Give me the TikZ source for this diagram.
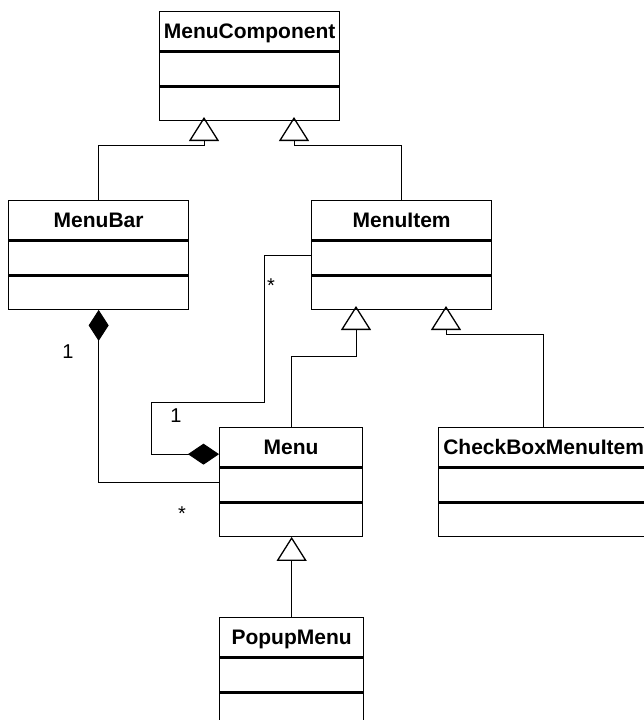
\documentclass[tikz,border=0pt]{standalone}
\usepackage{fontspec}
\setmainfont{Liberation Sans}
\usetikzlibrary{arrows.meta}
\begin{document}
\begin{tikzpicture}[x=1pt,y=-1pt,
  hdr/.style={draw, line width=1.3pt, inner sep=0pt, anchor=north west,
    minimum height=39pt, text height=15pt, text depth=0pt,
    font=\bfseries\fontsize{21}{24}\selectfont},
  attrs/.style={draw, line width=1.3pt, inner sep=0pt, anchor=north, minimum height=34pt},
  opers/.style={draw, line width=1.3pt, inner sep=0pt, anchor=north, minimum height=33pt},
  gen/.style={line width=0.9pt, -{Triangle[open, length=24pt, width=30pt, line width=1.3pt]}},
  comp/.style={line width=0.9pt},
  mult/.style={inner sep=0pt, font=\fontsize{20}{22}\selectfont}]
\fill[white] (0,0) rectangle (644,720);
\clip (0,0) rectangle (644,720);
\useasboundingbox (0,0) rectangle (644,720);

% MenuComponent
\node[hdr, minimum width=180pt] (mc) at (159,11) {MenuComponent};
\node[attrs, minimum width=180pt] (mc-a) at (mc.south) {};
\node[opers, minimum width=180pt] (mc-o) at (mc-a.south) {};

% MenuBar
\node[hdr, minimum width=180pt] (mb) at (8,200) {MenuBar};
\node[attrs, minimum width=180pt] (mb-a) at (mb.south) {};
\node[opers, minimum width=180pt] (mb-o) at (mb-a.south) {};

% MenuItem
\node[hdr, minimum width=180pt] (mi) at (311,200) {MenuItem};
\node[attrs, minimum width=180pt] (mi-a) at (mi.south) {};
\node[opers, minimum width=180pt] (mi-o) at (mi-a.south) {};

% Menu
\node[hdr, minimum width=143pt] (mn) at (219,427) {Menu};
\node[attrs, minimum width=143pt] (mn-a) at (mn.south) {};
\node[opers, minimum width=143pt] (mn-o) at (mn-a.south) {};

% CheckBoxMenuItem
\node[hdr, minimum width=210pt] (cb) at (438,427) {CheckBoxMenuItem};
\node[attrs, minimum width=210pt] (cb-a) at (cb.south) {};
\node[opers, minimum width=210pt] (cb-o) at (cb-a.south) {};

% PopupMenu
\node[hdr, minimum width=144pt] (pm) at (219,617) {PopupMenu};
\node[attrs, minimum width=144pt] (pm-a) at (pm.south) {};
\node[opers, minimum width=144pt] (pm-o) at (pm-a.south) {};

% points where generalisation arrows meet their parents
\coordinate (g1) at (204,117);
\coordinate (g2) at (294,117);
\coordinate (g3) at (356,306);
\coordinate (g4) at (446,306);

% generalisations
\draw[gen] (mb.north) -- ++(0,-55) -| (g1);
\draw[gen] (mi.north) -- ++(0,-55) -| (g2);
\draw[gen] (mn.north) -- ++(0,-71) -| (g3);
\draw[gen] (cb.north) -- ++(0,-93) -| (g4);
\draw[gen] (pm.north) -- (mn-o.south -| pm.north);

% compositions
\draw[comp, {Diamond[length=31pt, width=20pt]}-] (mb-o.south) |- ([yshift=3pt]mn-a.west);
\draw[comp, -{Diamond[length=31pt, width=21pt]}] ([yshift=3pt]mi-a.west) -- ++(-47,0)
  -- ++(0,147) -- ++(-113,0) |- ([yshift=-7pt]mn.west);

% multiplicities
\node[mult] (m1) at (271,286) {*};
\node[mult] (m2) at (68,352) {1};
\node[mult] (m3) at (176,416) {1};
\node[mult] (m4) at (182,514) {*};
\end{tikzpicture}
\end{document}
